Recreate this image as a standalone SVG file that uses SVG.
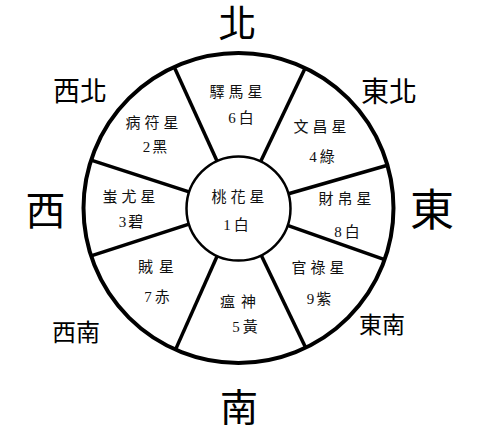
<svg xmlns="http://www.w3.org/2000/svg" width="483" height="429" viewBox="0 0 483 429">
<style>
.dir{font-family:"Liberation Serif","Noto Sans CJK TC",serif;fill:#000;text-anchor:middle}
.lbl{font-family:"Liberation Serif","Noto Sans CJK TC",serif;font-size:15px;fill:#111;text-anchor:middle}
.s3{letter-spacing:4px}
.s2{letter-spacing:6px}
.ln{stroke:#000;stroke-width:3.5;stroke-linecap:butt}
</style>
<rect width="483" height="429" fill="#fff"/>
<g id="ring">
<circle cx="238.5" cy="208" r="155" fill="#fff" stroke="#000" stroke-width="4"/>
</g>
<g id="connectors">
<line class="ln" x1="216.9" y1="160.7" x2="174.2" y2="66.9"/>
<line class="ln" x1="260.9" y1="161.1" x2="305.2" y2="68.1"/>
<line class="ln" x1="288.5" y1="193.7" x2="387.5" y2="165.3"/>
<line class="ln" x1="287.5" y1="225.4" x2="384.6" y2="259.7"/>
<line class="ln" x1="261.1" y1="254.9" x2="305.7" y2="347.7"/>
<line class="ln" x1="217.4" y1="255.5" x2="175.5" y2="349.6"/>
<line class="ln" x1="189.0" y1="224.1" x2="91.1" y2="255.9"/>
<line class="ln" x1="189.0" y1="191.9" x2="91.1" y2="160.1"/>
</g>
<g id="center">
<circle cx="238.5" cy="208.5" r="52" fill="#fff" stroke="#000" stroke-width="2.5"/>
<text class="lbl s3" x="240" y="202">桃花星</text>
<text class="lbl" x="236" y="230">1<tspan dx="3">白</tspan></text>
</g>
<g id="n-sector">
<text class="lbl s3" x="238" y="97">驛馬星</text>
<text class="lbl" x="241" y="123">6<tspan dx="3">白</tspan></text>
</g>
<g id="nw-sector">
<text class="lbl s3" x="154" y="128">病符星</text>
<text class="lbl" x="155" y="152">2<tspan dx="2">黑</tspan></text>
</g>
<g id="ne-sector">
<text class="lbl s3" x="322" y="132">文昌星</text>
<text class="lbl" x="322" y="162">4<tspan dx="3">綠</tspan></text>
</g>
<g id="w-sector">
<text class="lbl s3" x="131" y="202">蚩尤星</text>
<text class="lbl" x="131" y="227">3<tspan dx="2">碧</tspan></text>
</g>
<g id="e-sector">
<text class="lbl s3" x="347" y="204">財帛星</text>
<text class="lbl" x="347" y="237">8<tspan dx="3">白</tspan></text>
</g>
<g id="sw-sector">
<text class="lbl s2" x="159" y="272">賊星</text>
<text class="lbl" x="157" y="302">7<tspan dx="3">赤</tspan></text>
</g>
<g id="s-sector">
<text class="lbl s2" x="241" y="307">瘟神</text>
<text class="lbl" x="245" y="332">5<tspan dx="3">黃</tspan></text>
</g>
<g id="se-sector">
<text class="lbl s3" x="320" y="273">官祿星</text>
<text class="lbl" x="319" y="304">9<tspan dx="2">紫</tspan></text>
</g>
<g id="directions">
<text class="dir" x="237.5" y="37" font-size="38">北</text>
<text class="dir" x="239" y="421" font-size="38">南</text>
<text class="dir" x="45.5" y="225" font-size="40">西</text>
<text class="dir" x="432" y="226" font-size="44">東</text>
<text class="dir" x="80" y="101" font-size="27">西北</text>
<text class="dir" x="389" y="102" font-size="28">東北</text>
<text class="dir" x="76" y="341" font-size="24">西南</text>
<text class="dir" x="382" y="333" font-size="23">東南</text>
</g>
</svg>
